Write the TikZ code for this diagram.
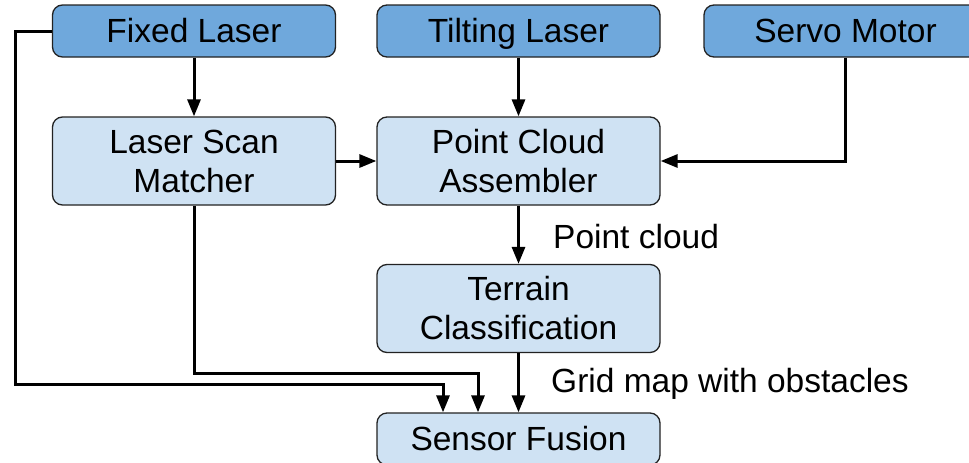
\documentclass[tikz,border=0pt]{standalone}
\usepackage{fontspec}
\setmainfont{Liberation Sans}
\usetikzlibrary{arrows.meta,calc}
\definecolor{srcblue}{HTML}{6FA8DC}
\definecolor{procblue}{HTML}{CFE2F3}
\definecolor{edgegray}{HTML}{222222}
\begin{document}
\begin{tikzpicture}[x=1pt,y=-1pt,
  every node/.style={font=\fontsize{33.5}{39}\selectfont, inner sep=0pt},
  box/.style={draw=edgegray, line width=1.3pt, rounded corners=10pt,
              minimum width=283pt, align=center},
  oneline/.style={text height=24pt, text depth=1pt, minimum height=52pt},
  srcbox/.style={box, oneline, fill=srcblue},
  procbox/.style={box, fill=procblue, minimum height=88pt},
  endbox/.style={box, oneline, fill=procblue},
  arr/.style={line width=3pt, -{Triangle[length=17pt,width=13pt]}},
  lbl/.style={anchor=west}]
\useasboundingbox (0,0) rectangle (969,463);

% sources
\node[srcbox] (fixed) at (194,31) {Fixed Laser};
\node[srcbox] (tilt)  at (518.5,31) {Tilting Laser};
\node[srcbox] (servo) at (845.5,31) {Servo Motor};

% processing stages
\node[procbox] (lsm)     at (194,161)    {Laser Scan\\Matcher};
\node[procbox] (pca)     at (518.5,161)  {Point Cloud\\Assembler};
\node[procbox] (terrain) at (518.5,308.5) {Terrain\\Classification};
\node[endbox]  (fusion)  at (518.5,439)  {Sensor Fusion};

% routing points
\coordinate (fl) at (15,384);
\coordinate (lm) at (195,373);
\coordinate (in1) at ($(fusion.north)+(-75.5,0)$);
\coordinate (in2) at ($(fusion.north)+(-40.5,0)$);

% connectors
\draw[arr] (fixed) -- (lsm);
\draw[arr] (tilt) -- (pca);
\draw[arr] (servo.south) |- (pca.east);
\draw[arr] (lsm) -- (pca);
\draw[arr] (pca) -- (terrain);
\draw[arr] (terrain) -- (fusion);
\draw[arr] (fixed.west) -| (fl) -| (in1);
\draw[arr] (lsm.south) |- (lm) -| (in2);

% edge labels
\node[lbl] (pclabel) at (553,237) {Point cloud};
\node[lbl] (gmlabel) at (551,384) {Grid map with obstacles};
\end{tikzpicture}
\end{document}
